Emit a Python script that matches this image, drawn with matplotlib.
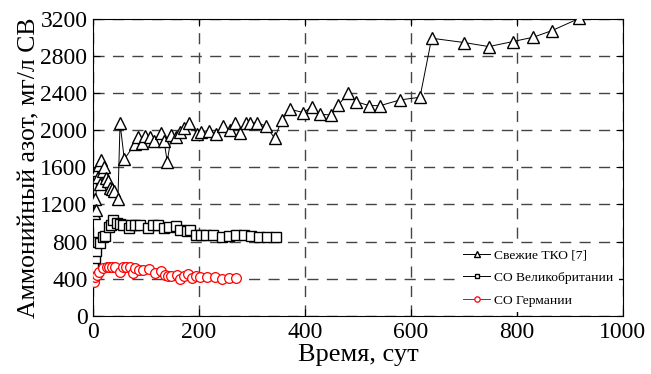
import matplotlib.pyplot as plt

# Свежие ТКО [7]
tko_x = [0, 1, 3, 5, 7, 9, 11, 13, 15, 18, 21, 24, 28, 32, 36, 40, 47, 51, 59,
         79, 85, 92, 99, 107, 116, 128, 134, 140, 148, 157, 164, 172, 182, 196,
         203, 218, 232, 245, 259, 268, 277, 289, 296, 309, 326, 343, 356, 372,
         397, 413, 428, 449, 463, 481, 496, 521, 542, 579, 617, 639, 701, 747,
         792, 831, 866, 918]
tko_y = [610, 1105, 1256, 1141, 1575, 1500, 1620, 1420, 1680, 1560, 1600, 1480,
         1456, 1380, 1363, 1348, 1256, 2073, 1686, 1851, 1930, 1858, 1937, 1930,
         1886, 1972, 1886, 1660, 1948, 1930, 1983, 2019, 2080, 1958, 1983, 1994,
         1958, 2044, 2001, 2073, 1966, 2073, 2073, 2080, 2044, 1912, 2109, 2224,
         2188, 2252, 2170, 2163, 2270, 2396, 2306, 2263, 2263, 2324, 2353, 2988,
         2941, 2898, 2952, 2999, 3070, 3203]

# СО Великобритании
uk_x = [0, 3, 5, 10, 13, 19, 23, 30, 33, 38, 45, 51, 57, 67, 72, 80, 89, 104,
        114, 123, 134, 143, 157, 165, 177, 183, 194, 203, 214, 227, 243, 257,
        270, 284, 298, 314, 329, 345]
uk_y = [530, 620, 700, 800, 790, 850, 861, 955, 980, 1033, 1004, 990, 979, 947,
        979, 979, 979, 947, 982, 982, 947, 958, 968, 925, 918, 925, 871, 871,
        871, 871, 846, 861, 868, 871, 861, 853, 846, 853]

# СО Германии
de_x = [1, 4, 7, 12, 18, 26, 31, 36, 42, 51, 57, 62, 69, 75, 79, 87, 95, 106,
        117, 128, 136, 142, 148, 158, 164, 172, 180, 186, 194, 202, 216, 230,
        243, 257, 270]
de_y = [369, 423, 441, 477, 513, 530, 530, 530, 530, 477, 530, 523, 523, 466,
        513, 491, 491, 505, 466, 484, 441, 434, 434, 441, 398, 434, 448, 405,
        427, 416, 416, 416, 398, 405, 405]

x_ticks = [0, 200, 400, 600, 800, 1000]
y_ticks = [0, 400, 800, 1200, 1600, 2000, 2400, 2800, 3200]

plt.rcParams['font.family'] = ['Liberation Serif', 'DejaVu Serif']

fig = plt.figure(figsize=(6.51, 3.74), dpi=100)
ax = fig.add_axes([0.1429, 0.155, 0.814, 0.7955])

ax.plot(tko_x, tko_y, color='black', lw=0.7, marker='^', ms=8,
        mfc='white', mec='black', mew=1.0, label='Свежие ТКО [7]', zorder=3)
ax.plot(uk_x, uk_y, color='black', lw=0.7, marker='s', ms=6.5,
        mfc='white', mec='black', mew=1.0, label='СО Великобритании', zorder=3)
ax.plot(de_x, de_y, color='red', lw=0.7, marker='o', ms=7,
        mfc='white', mec='red', mew=0.9, label='СО Германии', zorder=3)

ax.set_xlim(0, 1000)
ax.set_ylim(0, 3200)
ax.set_xticks(x_ticks)
ax.set_yticks(y_ticks)
ax.tick_params(direction='in', length=5, labelsize=17, top=True, right=True,
               pad=4)
ax.grid(True, color='#444444', linestyle=(0, (8, 6)), linewidth=1)

ax.set_xlabel('Время, сут', fontsize=19, labelpad=1)
ax.set_ylabel('Аммонийный азот, мг/л СВ', fontsize=18.5, labelpad=0)

leg = ax.legend(loc='lower right', bbox_to_anchor=(1.0, 0.0), fontsize=9.7,
                frameon=True, framealpha=1, edgecolor='white', fancybox=False,
                handlelength=2.0, markerscale=0.55, labelspacing=0.75,
                handletextpad=0.3, borderaxespad=0.3)
leg.get_frame().set_linewidth(0)

fig.savefig('out.png', dpi=100)
